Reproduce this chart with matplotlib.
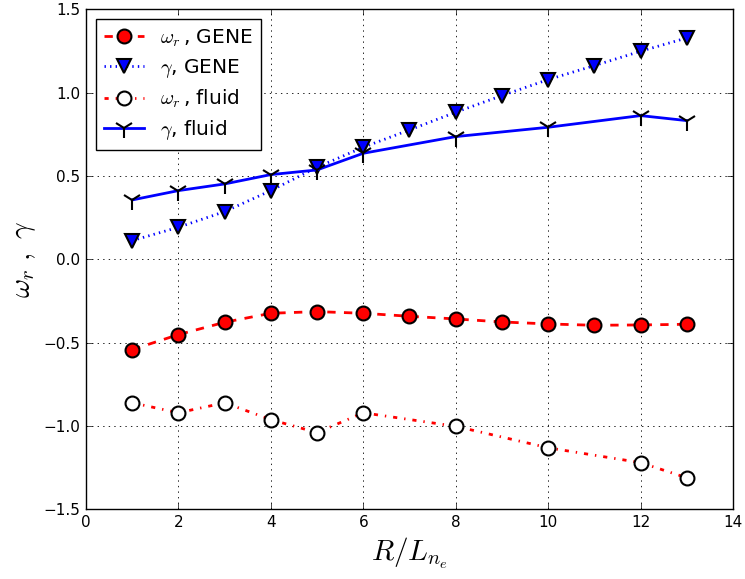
import numpy as np
import matplotlib
matplotlib.use('Agg')
import matplotlib.pyplot as plt

# Datos
x_gene = np.array([1, 2, 3, 4, 5, 6, 7, 8, 9, 10, 11, 12, 13])
wr_gene = np.array([-0.542, -0.452, -0.378, -0.324, -0.314, -0.324, -0.342,
                    -0.358, -0.376, -0.388, -0.396, -0.394, -0.390])
gam_gene = np.array([0.112, 0.192, 0.286, 0.412, 0.552, 0.672, 0.776,
                     0.882, 0.982, 1.078, 1.162, 1.248, 1.328])

x_fluid = np.array([1, 2, 3, 4, 5, 6, 8, 10, 12, 13])
wr_fluid = np.array([-0.861, -0.921, -0.861, -0.962, -1.040, -0.921,
                     -1.002, -1.131, -1.220, -1.311])
gam_fluid = np.array([0.356, 0.412, 0.452, 0.508, 0.536, 0.636,
                      0.736, 0.792, 0.862, 0.832])

# Estilo parecido al matplotlib antiguo
plt.rcParams['mathtext.fontset'] = 'cm'
plt.rcParams['font.family'] = 'DejaVu Sans'
plt.rcParams['lines.scale_dashes'] = False
plt.rcParams['lines.dashed_pattern'] = [6, 6]
plt.rcParams['lines.dashdot_pattern'] = [3, 5, 1, 5]
plt.rcParams['lines.dotted_pattern'] = [1, 3]

fig = plt.figure(figsize=(7.45, 5.79), dpi=100)
ax = fig.add_axes([0.1154, 0.1204, 0.8685, 0.8636])

ax.plot(x_gene, wr_gene, 'r--', lw=2, marker='o', ms=10, mfc='r',
        mec='k', mew=1.5, label=r'$\omega_r\,$, GENE')
ax.plot(x_gene, gam_gene, 'b:', lw=2, marker='v', ms=10, mfc='b',
        mec='k', mew=1.5, label=r'$\gamma$, GENE')
ax.plot(x_fluid, wr_fluid, 'r-.', lw=2, marker='o', ms=10, mfc='w',
        mec='k', mew=1.5, label=r'$\omega_r\,$, fluid')
ax.plot(x_fluid, gam_fluid, 'b-', lw=2, marker='1', ms=14, mfc='k',
        mec='k', mew=1.5, label=r'$\gamma$, fluid')

ax.set_xlim(0, 14)
ax.set_ylim(-1.5, 1.5)
ax.set_xticks(np.arange(0, 15, 2))
ax.set_yticks(np.arange(-1.5, 1.51, 0.5))
ax.tick_params(direction='in', top=True, right=True, length=4, width=0.5,
               labelsize=11, pad=4)
for s in ax.spines.values():
    s.set_linewidth(1)

ax.grid(True, color='k', linestyle=':', linewidth=0.6)

ax.set_xlabel(r'$R/L_{n_e}$', fontsize=21)
ax.set_ylabel(r'$\omega_r\ ,\ \gamma$', fontsize=21)

leg = ax.legend(loc='upper left', numpoints=1, fontsize=14.5, fancybox=False,
                framealpha=1, edgecolor='k', handlelength=2,
                labelspacing=0.4)
leg.get_frame().set_linewidth(1)

fig.savefig('out.png', dpi=100)
